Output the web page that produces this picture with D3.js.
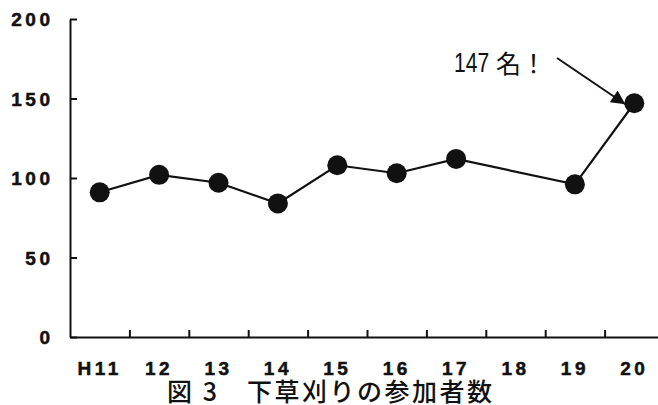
<!DOCTYPE html>
<html>
<head>
<meta charset="utf-8">
<script src="https://cdn.jsdelivr.net/npm/d3@7/dist/d3.min.js"></script>
<style>
  html, body { margin: 0; padding: 0; background: #fff; }
  svg { display: block; }
</style>
</head>
<body>
<script>
// 下草刈りの参加者数（年度別）
const years = ["H11", "12", "13", "14", "15", "16", "17", "18", "19", "20"];
const participants = [91, 102, 97, 84, 108, 103, 112, null, 96, 147];
const yTicks = [0, 50, 100, 150, 200];
const title = "図 3\u3000下草刈りの参加者数";
const noteNumber = "147";
const noteUnit = "名！";

const W = 658, H = 405;
const svg = d3.select("body").append("svg").attr("width", W).attr("height", H);

const x = d3.scaleBand().domain(years).range([70, 664]);
const y = d3.scaleLinear().domain([0, 200]).range([337, 19]);

const ink = "#111";
const tickFont = sel => sel
  .style("font-family", "'Liberation Sans', Arial, sans-serif")
  .style("font-weight", "bold")
  .style("font-size", "19px")
  .style("letter-spacing", "3.5px")
  .style("fill", ink)
  .style("stroke", ink)
  .style("stroke-width", "0.5px");

// y axis: ticks point into the plot, labels on the left
const yAxis = svg.append("g")
  .attr("transform", "translate(70,0)")
  .call(d3.axisLeft(y).tickValues(yTicks).tickSizeInner(-7).tickSizeOuter(0).tickPadding(16.5));
yAxis.select(".domain").attr("stroke", ink).attr("stroke-width", 2);
yAxis.selectAll(".tick line").attr("stroke", ink).attr("stroke-width", 2);
yAxis.selectAll(".tick text").attr("dy", "0.36em").call(tickFont);

// x axis: category labels under each band
const xAxis = svg.append("g")
  .attr("transform", "translate(0,337)")
  .call(d3.axisBottom(x).tickSize(0).tickPadding(24.5));
xAxis.select(".domain").attr("stroke", ink).attr("stroke-width", 2);
xAxis.selectAll(".tick text").attr("dy", "0.71em").attr("dx", 0).call(tickFont);

// x axis boundary ticks between bands
const edge = d3.scaleLinear().domain([0, years.length]).range(x.range());
const xEdges = svg.append("g")
  .attr("transform", "translate(0,337)")
  .call(d3.axisBottom(edge).tickValues(d3.range(1, years.length)).tickSizeInner(-7).tickSizeOuter(0).tickFormat(""));
xEdges.select(".domain").remove();
xEdges.selectAll(".tick line").attr("stroke", ink).attr("stroke-width", 2);

const pts = years.map((k, i) => ({ k, v: participants[i] })).filter(d => d.v != null);
const cx = d => x(d.k) + x.bandwidth() / 2;

svg.append("path")
  .datum(pts)
  .attr("fill", "none")
  .attr("stroke", ink)
  .attr("stroke-width", 2.2)
  .attr("d", d3.line().x(cx).y(d => y(d.v)));

svg.selectAll("circle.pt")
  .data(pts)
  .join("circle")
  .attr("class", "pt")
  .attr("cx", cx)
  .attr("cy", d => y(d.v))
  .attr("r", 10)
  .attr("fill", ink);

// callout for the latest year
const last = pts[pts.length - 1];
const tipX = cx(last) - 9, tipY = y(last.v) + 1;
const startX = 557, startY = 58;
svg.append("defs").append("marker")
  .attr("id", "head")
  .attr("viewBox", "0 0 10 10")
  .attr("refX", 10).attr("refY", 5)
  .attr("markerWidth", 8).attr("markerHeight", 7)
  .attr("markerUnits", "strokeWidth")
  .attr("orient", "auto")
  .append("path").attr("d", "M0,0L10,5L0,10Z").attr("fill", ink);
svg.append("line")
  .attr("x1", startX).attr("y1", startY)
  .attr("x2", tipX).attr("y2", tipY)
  .attr("stroke", ink).attr("stroke-width", 2)
  .attr("marker-end", "url(#head)");

svg.append("text")
  .attr("transform", "translate(454,72) scale(0.78,1)")
  .attr("font-family", "'Liberation Sans', Arial, sans-serif")
  .attr("font-size", 27)
  .attr("fill", ink)
  .text(noteNumber);
svg.append("text")
  .attr("x", 496).attr("y", 73)
  .attr("font-family", "'Noto Sans CJK JP', sans-serif")
  .attr("font-size", 25)
  .attr("fill", ink)
  .text(noteUnit);

svg.append("text")
  .attr("x", 167).attr("y", 401)
  .attr("font-family", "'Noto Sans CJK JP', sans-serif")
  .attr("font-size", 25)
  .attr("font-weight", 500)
  .attr("letter-spacing", 2.5)
  .attr("fill", ink)
  .text(title);
</script>
</body>
</html>
